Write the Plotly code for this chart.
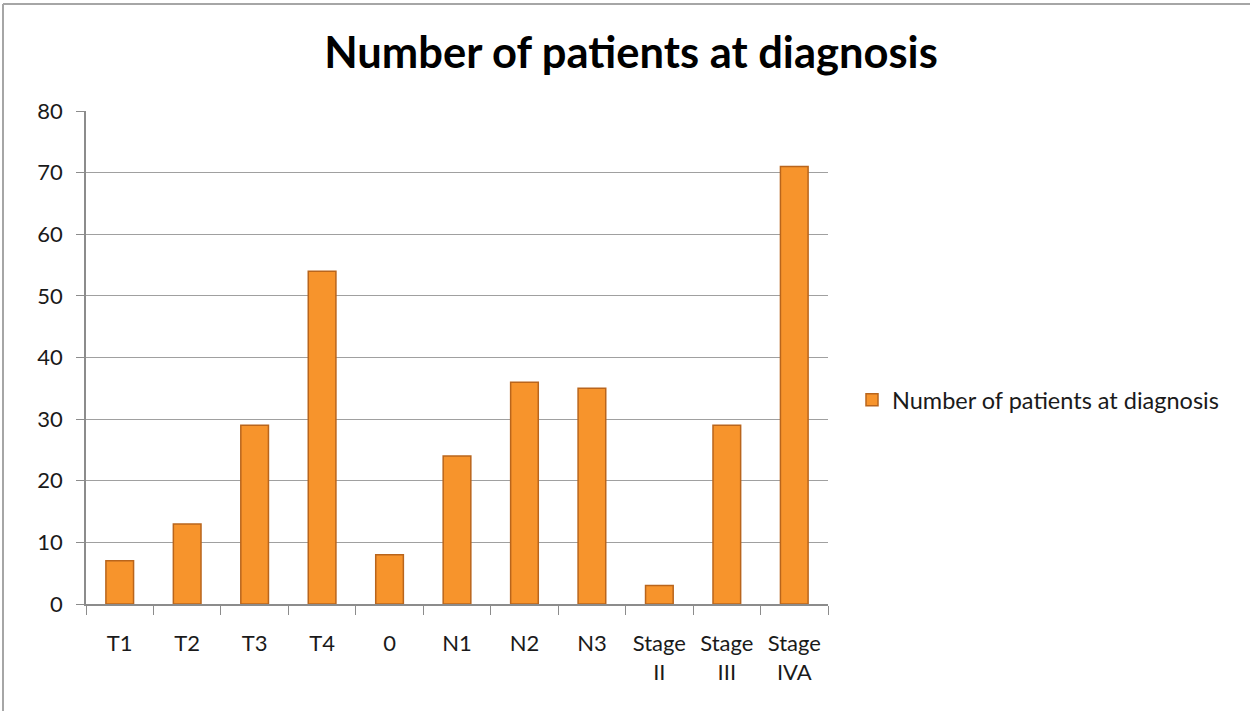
import plotly.graph_objects as go

categories = ["T1", "T2", "T3", "T4", "0", "N1", "N2", "N3", "Stage<br>II", "Stage<br>III", "Stage<br>IVA"]
values = [7, 13, 29, 54, 8, 24, 36, 35, 3, 29, 71]
series_name = "Number of patients at diagnosis"
y_ticks = [0, 10, 20, 30, 40, 50, 60, 70, 80]

W, H = 1250, 711
L, R, T, B = 86, 828, 111, 604

fig = go.Figure()
fig.add_trace(go.Bar(
    x=categories, y=values, name=series_name,
    marker=dict(color="#F7942C", line=dict(color="#B9651C", width=1.5)),
    width=0.41,
))

def px(x):
    return (x - L) / (R - L)

def py(y):
    return (B - y) / (B - T)

fig.update_layout(
    width=W, height=H,
    margin=dict(l=L, r=W - R, t=T, b=H - B),
    paper_bgcolor="white", plot_bgcolor="white",
    font=dict(family="Lato, Open Sans, sans-serif", size=22, color="#1a1a1a"),
    title=dict(text="<b>Number of patients at diagnosis</b>", x=631 / W, xanchor="center",
               y=1 - 53 / H, yanchor="middle", font=dict(size=43.5, color="black")),
    showlegend=True,
    legend=dict(x=px(852), xanchor="left", y=py(400), yanchor="middle",
                font=dict(size=23.5, color="#1a1a1a"), bgcolor="rgba(0,0,0,0)",
                itemwidth=30),
    shapes=[
        dict(type="line", xref="paper", yref="paper", x0=px(3), x1=px(1250), y0=py(4), y1=py(4),
             line=dict(color="#a6a6a6", width=2)),
        dict(type="line", xref="paper", yref="paper", x0=px(3), x1=px(3), y0=py(4), y1=py(711),
             line=dict(color="#a6a6a6", width=2)),
    ],
)
fig.update_xaxes(
    showline=True, linecolor="#8c8c8c", linewidth=1.5,
    ticks="outside", tickson="boundaries", ticklen=9, tickcolor="#8c8c8c",
    showgrid=False, tickfont=dict(size=22), ticklabelstandoff=19,
)
fig.update_yaxes(
    range=[0, 80], tickvals=y_ticks, showline=True, linecolor="#8c8c8c", linewidth=1.5,
    ticks="outside", ticklen=8, tickcolor="#8c8c8c",
    showgrid=True, gridcolor="#a0a0a0", gridwidth=1.3, zeroline=False,
    tickfont=dict(size=22), ticklabelstandoff=9,
)

fig.write_html("out.html", config={"displayModeBar": False},
               post_script="document.body.style.margin='0';")
